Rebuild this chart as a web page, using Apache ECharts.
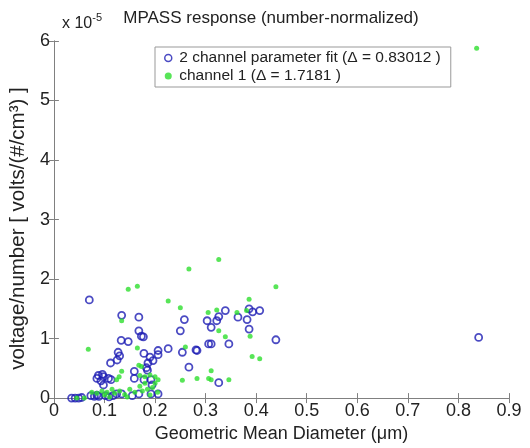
<!DOCTYPE html>
<html>
<head>
<meta charset="utf-8">
<script src="https://cdn.jsdelivr.net/npm/echarts@6/dist/echarts.min.js"></script>
<style>
  html, body { margin: 0; padding: 0; background: #fff; }
  #main { width: 530px; height: 448px; }
</style>
</head>
<body>
<div id="main"></div>
<script>
// values on the y axis are in units of 1e-5 volts/(#/cm3)
var fitName = '2 channel parameter fit (\u0394 = 0.83012 )';
var ch1Name = 'channel 1 (\u0394 = 1.7181 )';

// [diameter (um), response]
var fitPoints = [
  [0.035, 0.00], [0.042, 0.00], [0.049, 0.00], [0.055, 0.01],
  [0.073, 0.04], [0.080, 0.03], [0.085, 0.05], [0.089, 0.03],
  [0.102, 0.04], [0.109, 0.02], [0.117, 0.04], [0.124, 0.07], [0.134, 0.07],
  [0.155, 0.04], [0.168, 0.07], [0.192, 0.07], [0.206, 0.07],
  [0.070, 1.65],
  [0.134, 1.39], [0.168, 1.36], [0.168, 1.13], [0.173, 1.04], [0.177, 1.03],
  [0.133, 0.97], [0.147, 0.95],
  [0.127, 0.77], [0.130, 0.71], [0.125, 0.64], [0.112, 0.59],
  [0.178, 0.75], [0.190, 0.69], [0.196, 0.63], [0.186, 0.59], [0.206, 0.80], [0.206, 0.73],
  [0.226, 0.83], [0.183, 0.51], [0.185, 0.47], [0.159, 0.45], [0.159, 0.33],
  [0.088, 0.38], [0.096, 0.40], [0.085, 0.33], [0.098, 0.36], [0.093, 0.29], [0.108, 0.33],
  [0.098, 0.22], [0.113, 0.31], [0.178, 0.31], [0.192, 0.31], [0.194, 0.22],
  [0.258, 1.32], [0.250, 1.13], [0.254, 0.77], [0.281, 0.81], [0.267, 0.52],
  [0.303, 1.30], [0.322, 1.30], [0.326, 1.37], [0.311, 1.19], [0.364, 1.36],
  [0.382, 1.32], [0.386, 1.16],
  [0.339, 1.47], [0.386, 1.50], [0.393, 1.45], [0.407, 1.47],
  [0.306, 0.91], [0.311, 0.91], [0.346, 0.91], [0.439, 0.98], [0.283, 0.80], [0.326, 0.26],
  [0.840, 1.02]
];

var ch1Points = [
  [0.836, 5.88],
  [0.068, 0.82], [0.134, 1.30], [0.147, 1.83], [0.165, 1.88], [0.267, 2.17],
  [0.226, 1.63], [0.250, 1.52], [0.305, 1.44],
  [0.326, 2.33], [0.439, 1.87], [0.386, 1.66], [0.322, 1.48], [0.362, 1.44], [0.381, 1.47],
  [0.326, 1.13], [0.339, 1.03], [0.388, 1.04], [0.392, 0.70], [0.407, 0.66],
  [0.311, 0.46], [0.283, 0.33], [0.306, 0.33], [0.311, 0.31], [0.346, 0.31],
  [0.260, 0.86], [0.254, 0.30], [0.165, 0.84],
  [0.134, 0.45], [0.168, 0.55], [0.173, 0.53], [0.124, 0.31], [0.129, 0.36],
  [0.170, 0.38], [0.180, 0.36], [0.190, 0.39], [0.200, 0.36], [0.206, 0.31],
  [0.075, 0.10], [0.085, 0.08], [0.095, 0.12], [0.100, 0.05], [0.105, 0.10],
  [0.115, 0.15], [0.120, 0.08], [0.130, 0.12], [0.140, 0.06], [0.150, 0.15],
  [0.160, 0.10], [0.170, 0.20], [0.175, 0.12], [0.180, 0.25], [0.185, 0.15],
  [0.190, 0.05], [0.195, 0.18], [0.200, 0.25], [0.205, 0.10], [0.110, 0.02],
  [0.145, 0.02], [0.060, 0.00], [0.045, 0.00]
];

var blue = '#1e1eb4';
var green = '#2ede2e';
var axisGray = '#808080';
var font = 'Liberation Sans, Arial, sans-serif';

var chart = echarts.init(document.getElementById('main'));

var option = {
  backgroundColor: '#fff',
  animation: false,
  textStyle: { fontFamily: font },
  title: {
    text: 'MPASS response (number-normalized)',
    left: 266, top: 5,
    textAlign: 'center',
    textStyle: { fontSize: 17, fontWeight: 'normal', color: '#222', fontFamily: font }
  },
  graphic: [{
    type: 'text',
    left: 62, top: 12,
    style: {
      text: '{a|x 10}{b|-5}',
      fill: '#222',
      rich: {
        a: { fontSize: 16, fontFamily: font, fill: '#222', verticalAlign: 'bottom', lineHeight: 20 },
        b: { fontSize: 11, fontFamily: font, fill: '#222', verticalAlign: 'top', lineHeight: 20 }
      }
    }
  }],
  legend: {
    orient: 'vertical',
    left: 155, top: 47,
    padding: [3, 10, 3, 9],
    itemGap: 2,
    itemWidth: 12, itemHeight: 7,
    borderColor: '#999', borderWidth: 1,
    backgroundColor: '#fff',
    textStyle: { fontSize: 15.5, color: '#222', fontFamily: font },
    data: [
      { name: fitName, icon: 'circle', itemStyle: { color: 'transparent', borderColor: blue, borderWidth: 1.5 } },
      { name: ch1Name, icon: 'circle', itemStyle: { color: green, borderWidth: 0 } }
    ]
  },
  grid: { left: 52, right: 21, top: 41, bottom: 43 },
  xAxis: [{
    type: 'value',
    min: 0, max: 0.9, interval: 0.1,
    name: 'Geometric Mean Diameter (\u03bcm)',
    nameLocation: 'middle',
    nameGap: 24,
    nameTextStyle: { fontSize: 18, color: '#222', fontFamily: font },
    axisLine: { show: true, onZero: false, lineStyle: { color: axisGray } },
    axisTick: { show: true, inside: true, length: 5, lineStyle: { color: axisGray } },
    axisLabel: { fontSize: 18, color: '#222', margin: 4, fontFamily: font },
    splitLine: { show: false }
  }, {
    type: 'value', position: 'top',
    min: 0, max: 0.9, interval: 0.1,
    axisLine: { show: true, lineStyle: { color: axisGray } },
    axisTick: { show: true, inside: true, length: 5, lineStyle: { color: axisGray } },
    axisLabel: { show: false },
    splitLine: { show: false }
  }],
  yAxis: [{
    type: 'value',
    min: 0, max: 6, interval: 1,
    name: 'voltage/number [ volts/(#/cm\u00b3) ]',
    nameLocation: 'middle',
    nameRotate: 90,
    nameGap: 21,
    nameTextStyle: { fontSize: 20.5, color: '#222', fontFamily: font, padding: [0, 18, 0, 0] },
    axisLine: { show: true, onZero: false, lineStyle: { color: axisGray } },
    axisTick: { show: true, inside: true, length: 5, lineStyle: { color: axisGray } },
    axisLabel: { fontSize: 18, color: '#222', margin: 4, fontFamily: font },
    splitLine: { show: false }
  }, {
    type: 'value', position: 'right',
    min: 0, max: 6, interval: 1,
    axisLine: { show: true, lineStyle: { color: axisGray } },
    axisTick: { show: true, inside: true, length: 5, lineStyle: { color: axisGray } },
    axisLabel: { show: false },
    splitLine: { show: false }
  }],
  series: [{
    name: fitName,
    type: 'scatter',
    symbol: 'circle',
    symbolSize: 7,
    itemStyle: { color: 'transparent', borderColor: blue, borderWidth: 1.8 },
    data: fitPoints
  }, {
    name: ch1Name,
    type: 'scatter',
    symbol: 'circle',
    symbolSize: 5,
    itemStyle: { color: green },
    data: ch1Points
  }]
};

chart.setOption(option);
</script>
</body>
</html>
